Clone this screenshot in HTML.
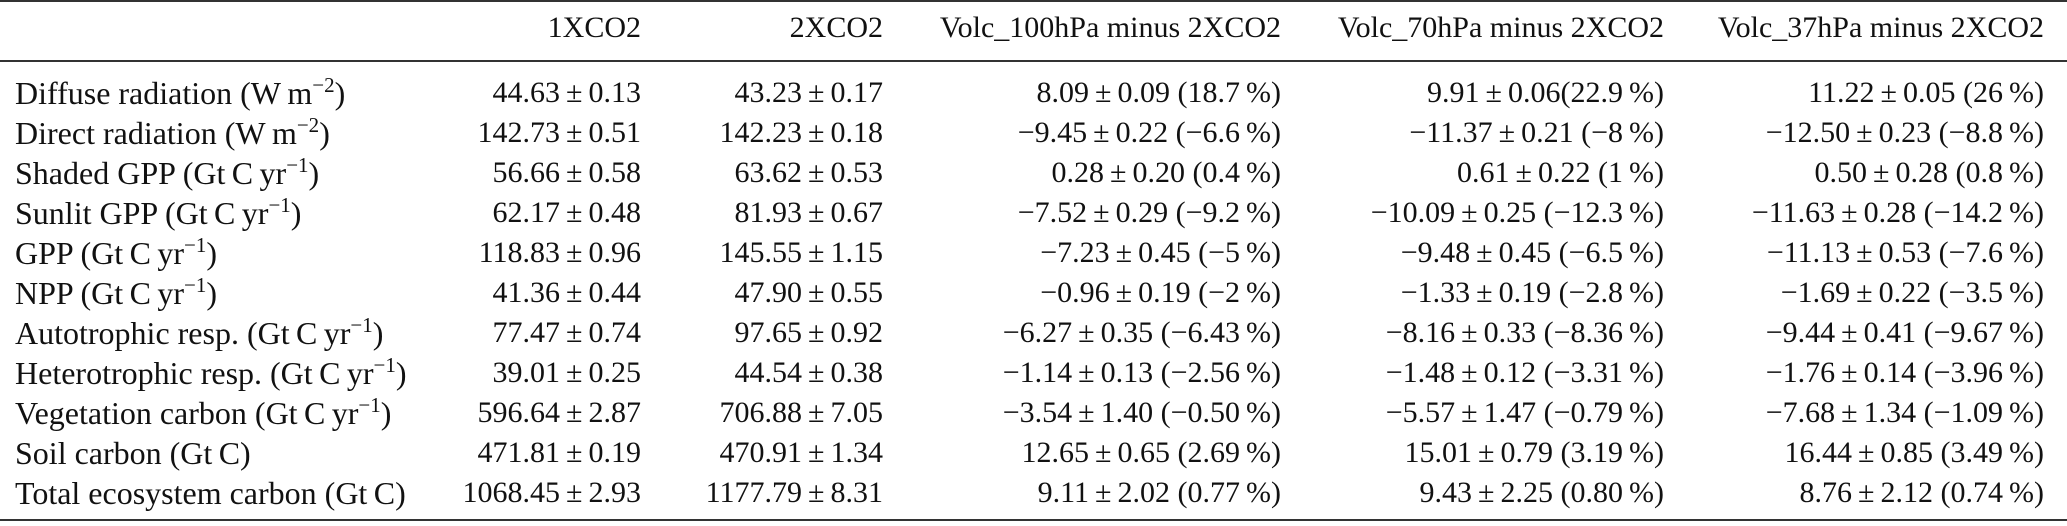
<!DOCTYPE html>
<html><head><meta charset="utf-8">
<style>
html,body{margin:0;padding:0;background:#fff;}
body{width:2067px;height:526px;position:relative;overflow:hidden;font-family:"Liberation Serif",serif;font-size:30px;color:#111;}
.rule{position:absolute;left:0;width:2067px;background:#333;}
.row{position:absolute;left:0;width:2067px;height:40px;line-height:40px;}
.c{position:absolute;top:0;white-space:nowrap;text-align:right;}
.lab{position:absolute;left:15px;top:0;white-space:nowrap;font-size:32px;}
sup{font-size:21px;line-height:0;vertical-align:12px;}
</style></head>
<body>
<div class="rule" style="top:0;height:2px"></div>
<div class="rule" style="top:60px;height:2px"></div>
<div class="rule" style="top:519px;height:2px"></div>
<div id="tbl"></div>
<script>
const rights=[641,883,1281,1664,2044];
const headers=["1XCO2","2XCO2","Volc_100hPa minus 2XCO2","Volc_70hPa minus 2XCO2","Volc_37hPa minus 2XCO2"];
const labels=[
"Diffuse radiation (W\u2009m<sup>\u22122</sup>)",
"Direct radiation (W\u2009m<sup>\u22122</sup>)",
"Shaded GPP (Gt\u2009C\u2009yr<sup>\u22121</sup>)",
"Sunlit GPP (Gt\u2009C\u2009yr<sup>\u22121</sup>)",
"GPP (Gt\u2009C\u2009yr<sup>\u22121</sup>)",
"NPP (Gt\u2009C\u2009yr<sup>\u22121</sup>)",
"Autotrophic resp. (Gt\u2009C\u2009yr<sup>\u22121</sup>)",
"Heterotrophic resp. (Gt\u2009C\u2009yr<sup>\u22121</sup>)",
"Vegetation carbon (Gt\u2009C\u2009yr<sup>\u22121</sup>)",
"Soil carbon (Gt\u2009C)",
"Total ecosystem carbon (Gt\u2009C)"];
const col1=["44.63 ± 0.13","142.73 ± 0.51","56.66 ± 0.58","62.17 ± 0.48","118.83 ± 0.96","41.36 ± 0.44","77.47 ± 0.74","39.01 ± 0.25","596.64 ± 2.87","471.81 ± 0.19","1068.45 ± 2.93"];
const col2=["43.23 ± 0.17","142.23 ± 0.18","63.62 ± 0.53","81.93 ± 0.67","145.55 ± 1.15","47.90 ± 0.55","97.65 ± 0.92","44.54 ± 0.38","706.88 ± 7.05","470.91 ± 1.34","1177.79 ± 8.31"];
const col3=["8.09 ± 0.09 (18.7 %)","−9.45 ± 0.22 (−6.6 %)","0.28 ± 0.20 (0.4 %)","−7.52 ± 0.29 (−9.2 %)","−7.23 ± 0.45 (−5 %)","−0.96 ± 0.19 (−2 %)","−6.27 ± 0.35 (−6.43 %)","−1.14 ± 0.13 (−2.56 %)","−3.54 ± 1.40 (−0.50 %)","12.65 ± 0.65 (2.69 %)","9.11 ± 2.02 (0.77 %)"];
const col4=["9.91 ± 0.06(22.9 %)","−11.37 ± 0.21 (−8 %)","0.61 ± 0.22 (1 %)","−10.09 ± 0.25 (−12.3 %)","−9.48 ± 0.45 (−6.5 %)","−1.33 ± 0.19 (−2.8 %)","−8.16 ± 0.33 (−8.36 %)","−1.48 ± 0.12 (−3.31 %)","−5.57 ± 1.47 (−0.79 %)","15.01 ± 0.79 (3.19 %)","9.43 ± 2.25 (0.80 %)"];
const col5=["11.22 ± 0.05 (26 %)","−12.50 ± 0.23 (−8.8 %)","0.50 ± 0.28 (0.8 %)","−11.63 ± 0.28 (−14.2 %)","−11.13 ± 0.53 (−7.6 %)","−1.69 ± 0.22 (−3.5 %)","−9.44 ± 0.41 (−9.67 %)","−1.76 ± 0.14 (−3.96 %)","−7.68 ± 1.34 (−1.09 %)","16.44 ± 0.85 (3.49 %)","8.76 ± 2.12 (0.74 %)"];
const cols=[col1,col2,col3,col4,col5];
const tbl=document.getElementById('tbl');
function fmt(s){return s.replace(/ ± /g,'\u2009±\u2009').replace(/ %/g,'\u2009%');}
const hr=document.createElement('div');
hr.className='row';hr.style.top='8px';


headers.forEach((h,j)=>{
  const d=document.createElement('div');
  d.className='c';d.textContent=h;
  d.style.right=(2067-rights[j])+'px';
  
  
  hr.appendChild(d);
});
tbl.appendChild(hr);
labels.forEach((lab,i)=>{
  const r=document.createElement('div');
  r.className='row';r.style.top=(73+40*i)+'px';
  
  
  const l=document.createElement('div');
  l.className='lab';l.innerHTML=lab;
  
  
  r.appendChild(l);
  cols.forEach((c,j)=>{
    const d=document.createElement('div');
    d.className='c';d.textContent=fmt(c[i]);
    d.style.right=(2067-rights[j])+'px';
    
    
    r.appendChild(d);
  });
  tbl.appendChild(r);
});
</script>
</body></html>
